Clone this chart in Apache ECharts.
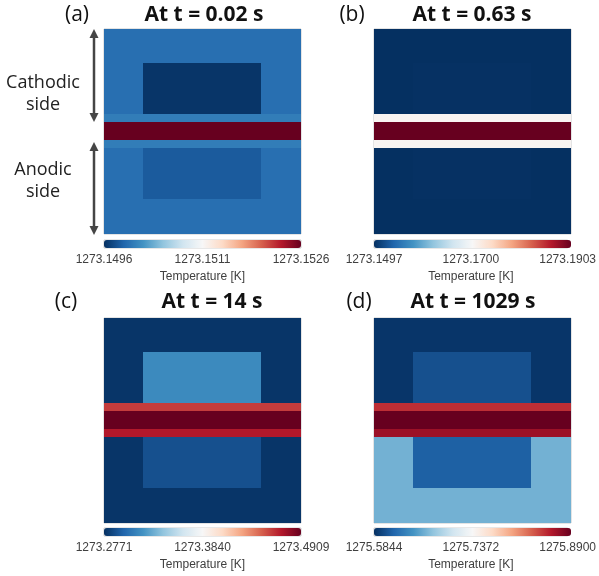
<!DOCTYPE html>
<html>
<head>
<meta charset="utf-8">
<script src="https://cdn.jsdelivr.net/npm/echarts@6/dist/echarts.min.js"></script>
<style>html,body{margin:0;padding:0;background:#fff}#chart{width:599px;height:576px}</style>
</head>
<body>
<div id="chart"></div>
<script>
// ---------------- data ----------------
const panelTags = ['(a)', '(b)', '(c)', '(d)'];
const panelTitles = ['At t = 0.02 s', 'At t = 0.63 s', 'At t = 14 s', 'At t = 1029 s'];
const scaleTicks = [
  ['1273.1496', '1273.1511', '1273.1526'],
  ['1273.1497', '1273.1700', '1273.1903'],
  ['1273.2771', '1273.3840', '1273.4909'],
  ['1275.5844', '1275.7372', '1275.8900']
];
const scaleName = 'Temperature [K]';
// region temperatures [K] for panels a, b, c, d
const tCathodeOuter      = [1273.14996, 1273.1497, 1273.2792, 1275.5875];
const tCathodeCore       = [1273.14963, 1273.1498, 1273.3156, 1275.6027];
const tCathodeInterlayer = [1273.15005, 1273.1704, 1273.4588, 1275.8503];
const tElectrolyte       = [1273.1526,  1273.1903, 1273.4909, 1275.8900];
const tAnodeInterlayer   = [1273.15005, 1273.1704, 1273.4695, 1275.8686];
const tAnodeCore         = [1273.14984, 1273.1498, 1273.2899, 1275.6119];
const tAnodeOuter        = [1273.14996, 1273.1497, 1273.2792, 1275.6639];
// mesh: rows top -> bottom, columns left -> right
const rowLayers = [
  'cathodeOuter', 'cathodeOuter', 'cathodeOuter', 'cathodeOuter',
  'cathode', 'cathode', 'cathode', 'cathode', 'cathode', 'cathode',
  'cathodeInterlayer', 'electrolyte', 'electrolyte', 'anodeInterlayer',
  'anode', 'anode', 'anode', 'anode', 'anode', 'anode',
  'anodeOuter', 'anodeOuter', 'anodeOuter', 'anodeOuter'
];
const columnZones = ['edge', 'edge', 'core', 'core', 'core', 'core', 'core', 'core', 'edge', 'edge'];
const sideLabels = ['Cathodic\nside', 'Anodic\nside'];

// ---------------- build ----------------
const rdbu = ['#053061', '#2166ac', '#4393c3', '#92c5de', '#d1e5f0', '#f7f7f7',
              '#fddbc7', '#f4a582', '#d6604d', '#b2182b', '#67001f'];

function cellTemp(p, layer, zone) {
  switch (layer) {
    case 'cathodeOuter': return tCathodeOuter[p];
    case 'cathode': return zone === 'core' ? tCathodeCore[p] : tCathodeOuter[p];
    case 'cathodeInterlayer': return tCathodeInterlayer[p];
    case 'electrolyte': return tElectrolyte[p];
    case 'anodeInterlayer': return tAnodeInterlayer[p];
    case 'anode': return zone === 'core' ? tAnodeCore[p] : tAnodeOuter[p];
    case 'anodeOuter': return tAnodeOuter[p];
  }
}

const panelBox = [
  { left: 104, top: 29, barTop: 240, cx: 204, tagX: 77, titleY: 15 },
  { left: 374, top: 29, barTop: 240, cx: 472, tagX: 352, titleY: 15 },
  { left: 104, top: 318, barTop: 528, cx: 212, tagX: 66, titleY: 302 },
  { left: 374, top: 318, barTop: 528, cx: 473, tagX: 359, titleY: 302 }
];
const panelW = 197, panelH = 205, barThick = 8;
const fontMain = '"Open Sans", "Noto Sans", sans-serif';
const fontAxis = '"Liberation Sans", Arial, sans-serif';

const grid = [], xAxis = [], yAxis = [], series = [], visualMap = [], graphic = [];

function renderCell(params, api) {
  const c = api.coord([api.value(0), api.value(1)]);
  const s = api.size([1, 1]);
  const x0 = Math.floor(c[0] - s[0] / 2), x1 = Math.ceil(c[0] + s[0] / 2);
  const y0 = Math.floor(c[1] - s[1] / 2), y1 = Math.ceil(c[1] + s[1] / 2);
  return {
    type: 'rect',
    shape: { x: x0, y: y0, width: x1 - x0, height: y1 - y0 },
    style: { fill: api.visual('color') }
  };
}

panelBox.forEach((b, p) => {
  grid.push({ left: b.left, top: b.top, width: panelW, height: panelH,
              show: true, borderColor: '#c9c9c9', borderWidth: 1, backgroundColor: 'transparent' });
  xAxis.push({ gridIndex: p, type: 'category', data: columnZones.map((z, i) => i), show: false });
  yAxis.push({ gridIndex: p, type: 'category', data: rowLayers.map((r, i) => i), inverse: true, show: false });
  const data = [];
  rowLayers.forEach((layer, r) => {
    columnZones.forEach((zone, c) => data.push([c, r, cellTemp(p, layer, zone)]));
  });
  series.push({ type: 'custom', xAxisIndex: p, yAxisIndex: p, data, silent: true, clip: true,
                encode: { x: 0, y: 1 }, renderItem: renderCell, z: 2 });
  const lo = parseFloat(scaleTicks[p][0]), hi = parseFloat(scaleTicks[p][2]);
  visualMap.push({
    type: 'continuous', seriesIndex: p, dimension: 2, min: lo, max: hi, orient: 'horizontal',
    left: b.left, top: b.barTop, itemWidth: barThick, itemHeight: panelW,
    calculable: false, realtime: false, text: null, showLabel: false, padding: 0,
    hoverLink: false, inRange: { color: rdbu }
  });
});

// colour-bar label axes
panelBox.forEach((b, p) => {
  const gi = 4 + p;
  grid.push({ left: b.left, top: b.barTop, width: panelW, height: barThick,
              show: true, borderColor: '#cfcfcf', borderWidth: 1, backgroundColor: 'transparent' });
  xAxis.push({
    gridIndex: gi, type: 'category', data: scaleTicks[p], boundaryGap: false,
    axisLine: { show: false },
    axisTick: { show: false },
    axisLabel: { interval: 0, margin: 6, fontSize: 12, color: '#404040', fontFamily: fontAxis },
    name: scaleName, nameLocation: 'middle', nameGap: 23,
    nameTextStyle: { fontSize: 12, color: '#404040', fontFamily: fontAxis }
  });
  yAxis.push({ gridIndex: gi, type: 'value', show: false });
});

// titles and tags
panelBox.forEach((b, p) => {
  graphic.push({ type: 'text', x: b.tagX, y: b.titleY,
    style: { text: panelTags[p], font: '21px ' + fontMain, fill: '#111', textAlign: 'center', textVerticalAlign: 'middle' } });
  graphic.push({ type: 'text', x: b.cx, y: b.titleY,
    style: { text: panelTitles[p], font: 'bold 21px ' + fontMain, fill: '#111', textAlign: 'center', textVerticalAlign: 'middle' } });
});

// side annotations (panel a)
function dblArrow(x, y1, y2) {
  const c = '#454545', hw = 4.5, hh = 9;
  return { type: 'group', children: [
    { type: 'line', shape: { x1: x, y1: y1 + hh - 1, x2: x, y2: y2 - hh + 1 }, style: { stroke: c, lineWidth: 2.5 } },
    { type: 'polygon', shape: { points: [[x, y1], [x - hw, y1 + hh], [x + hw, y1 + hh]] }, style: { fill: c } },
    { type: 'polygon', shape: { points: [[x, y2], [x - hw, y2 - hh], [x + hw, y2 - hh]] }, style: { fill: c } }
  ] };
}
graphic.push(dblArrow(94, 29, 122));
graphic.push(dblArrow(94, 142, 235));
graphic.push({ type: 'text', x: 43, y: 94,
  style: { text: sideLabels[0], font: '18px ' + fontMain, fill: '#222', textAlign: 'center', textVerticalAlign: 'middle', lineHeight: 22 } });
graphic.push({ type: 'text', x: 43, y: 181,
  style: { text: sideLabels[1], font: '18px ' + fontMain, fill: '#222', textAlign: 'center', textVerticalAlign: 'middle', lineHeight: 22 } });

const chart = echarts.init(document.getElementById('chart'), null, { renderer: 'canvas' });
chart.setOption({ animation: false, backgroundColor: '#fff', grid, xAxis, yAxis, series, visualMap, graphic });
</script>
</body>
</html>
